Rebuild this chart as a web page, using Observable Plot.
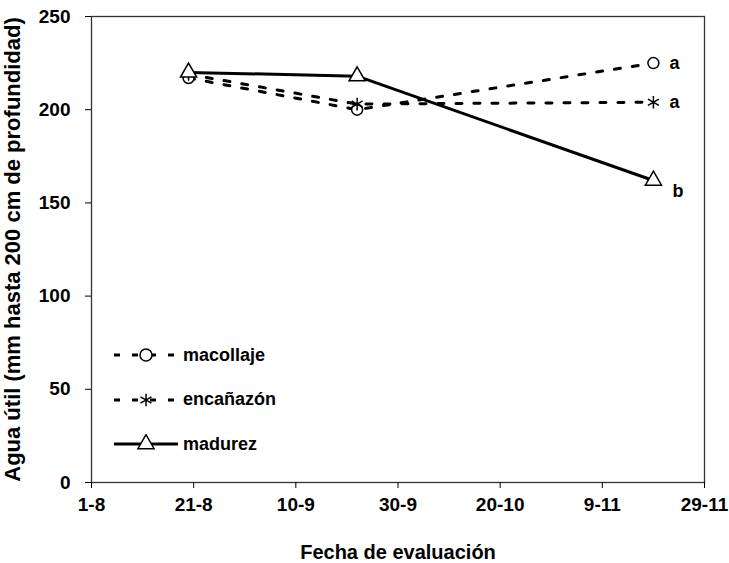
<!DOCTYPE html>
<html>
<head>
<meta charset="utf-8">
<script src="https://cdn.jsdelivr.net/npm/d3@7"></script>
<script src="https://cdn.jsdelivr.net/npm/@observablehq/plot@0.6"></script>
<style>
  html, body { margin: 0; padding: 0; background: #fff; }
  #wrap { position: relative; width: 729px; height: 563px; font-family: "Liberation Sans", Arial, sans-serif; }
  #legend { position: absolute; left: 112px; top: 333px; font-weight: bold; font-size: 18px; color: #000; }
  #legend .row { display: flex; align-items: center; height: 44.5px; }
  #legend svg { display: block; margin-right: 3px; }
</style>
</head>
<body>
<div id="wrap"></div>
<script>
// ---- data ----
const dates = ["2005-08-20", "2005-09-22", "2005-11-19"];
const macollaje = [217, 200, 225];
const encanazon = [219, 203, 204];
const madurez = [220, 218, 162];
const letters = ["a", "a", "b"];
const letterSeries = [macollaje, encanazon, madurez];
const xTicks = ["2005-08-01", "2005-08-21", "2005-09-10", "2005-09-30", "2005-10-20", "2005-11-09", "2005-11-29"];
const yTicks = [0, 50, 100, 150, 200, 250];
const seriesNames = ["macollaje", "encañazón", "madurez"];

const toDate = s => new Date(s + "T00:00:00Z");
const mk = vals => dates.map((d, i) => ({date: toDate(d), v: vals[i]}));
const dMac = mk(macollaje), dEnc = mk(encanazon), dMad = mk(madurez);
const last = dates.length - 1;
const labelsData = letters.map((t, i) => ({date: toDate(dates[last]), v: letterSeries[i][last], t}));

const fmt = d => `${d.getUTCDate()}-${d.getUTCMonth() + 1}`;
const dash = "6,12";

const chart = Plot.plot({
  width: 729,
  height: 563,
  marginTop: 16,
  marginBottom: 81,
  marginLeft: 91,
  marginRight: 25,
  style: {fontFamily: "'Liberation Sans', Arial, sans-serif", background: "#fff", color: "#000"},
  x: {type: "utc", domain: [toDate(xTicks[0]), toDate(xTicks[xTicks.length - 1])]},
  y: {domain: [0, 250]},
  marks: [
    Plot.frame({stroke: "#333", strokeWidth: 1.3}),
    Plot.axisY({ticks: yTicks, tickSize: 6, tickPadding: 15, fontSize: 19, fontWeight: "bold", label: null}),
    Plot.axisY({ticks: [], fontSize: 22, fontWeight: "bold",
      label: "Agua útil (mm hasta 200 cm de profundidad)", labelAnchor: "center", labelArrow: "none", labelOffset: 87}),
    Plot.axisX({ticks: xTicks.map(toDate), tickFormat: fmt, tickSize: 6, tickPadding: 9, fontSize: 19, fontWeight: "bold", label: null}),
    Plot.axisX({ticks: [], fontSize: 20, fontWeight: "bold",
      label: "Fecha de evaluación", labelAnchor: "center", labelArrow: "none", labelOffset: 76}),
    Plot.lineY(dMac, {x: "date", y: "v", stroke: "#000", strokeWidth: 3, strokeDasharray: dash}),
    Plot.lineY(dEnc, {x: "date", y: "v", stroke: "#000", strokeWidth: 3, strokeDasharray: dash}),
    Plot.lineY(dMad, {x: "date", y: "v", stroke: "#000", strokeWidth: 3}),
    Plot.dot(dMac, {x: "date", y: "v", symbol: "circle", r: 5.5, fill: "#fff", stroke: "#000", strokeWidth: 1.5}),
    Plot.dot(dEnc, {x: "date", y: "v", symbol: "asterisk", r: 6, fill: "none", stroke: "#000", strokeWidth: 1.5}),
    Plot.dot(dMad, {x: "date", y: "v", symbol: "triangle", r: 6, fill: "#fff", stroke: "#000", strokeWidth: 1.5}),
    Plot.text(labelsData.slice(0, 2), {x: "date", y: "v", text: "t", dx: 16, textAnchor: "start", fontSize: 18, fontWeight: "bold", fill: "#000"}),
    Plot.text(labelsData.slice(2), {x: "date", y: "v", text: "t", dx: 19, dy: 11, textAnchor: "start", fontSize: 18, fontWeight: "bold", fill: "#000"})
  ]
});

const wrap = document.getElementById("wrap");
wrap.appendChild(chart);

// legend (HTML overlay inside plot area)
const legend = document.createElement("div");
legend.id = "legend";
const symbols = [d3.symbolCircle, d3.symbolAsterisk, d3.symbolTriangle];
const dashes = [dash, dash, null];
seriesNames.forEach((name, i) => {
  const row = document.createElement("div");
  row.className = "row";
  const svg = d3.create("svg").attr("width", 68).attr("height", 20);
  const l = svg.append("line").attr("x1", 2).attr("x2", 66).attr("y1", 10).attr("y2", 10)
    .attr("stroke", "#000").attr("stroke-width", 3);
  if (dashes[i]) l.attr("stroke-dasharray", dash);
  svg.append("path").attr("transform", "translate(34,10)")
    .attr("d", d3.symbol(symbols[i], Math.PI * 36)())
    .attr("fill", i === 1 ? "none" : "#fff").attr("stroke", "#000").attr("stroke-width", 1.5);
  row.appendChild(svg.node());
  const span = document.createElement("span");
  span.textContent = name;
  row.appendChild(span);
  legend.appendChild(row);
});
wrap.appendChild(legend);
</script>
</body>
</html>
